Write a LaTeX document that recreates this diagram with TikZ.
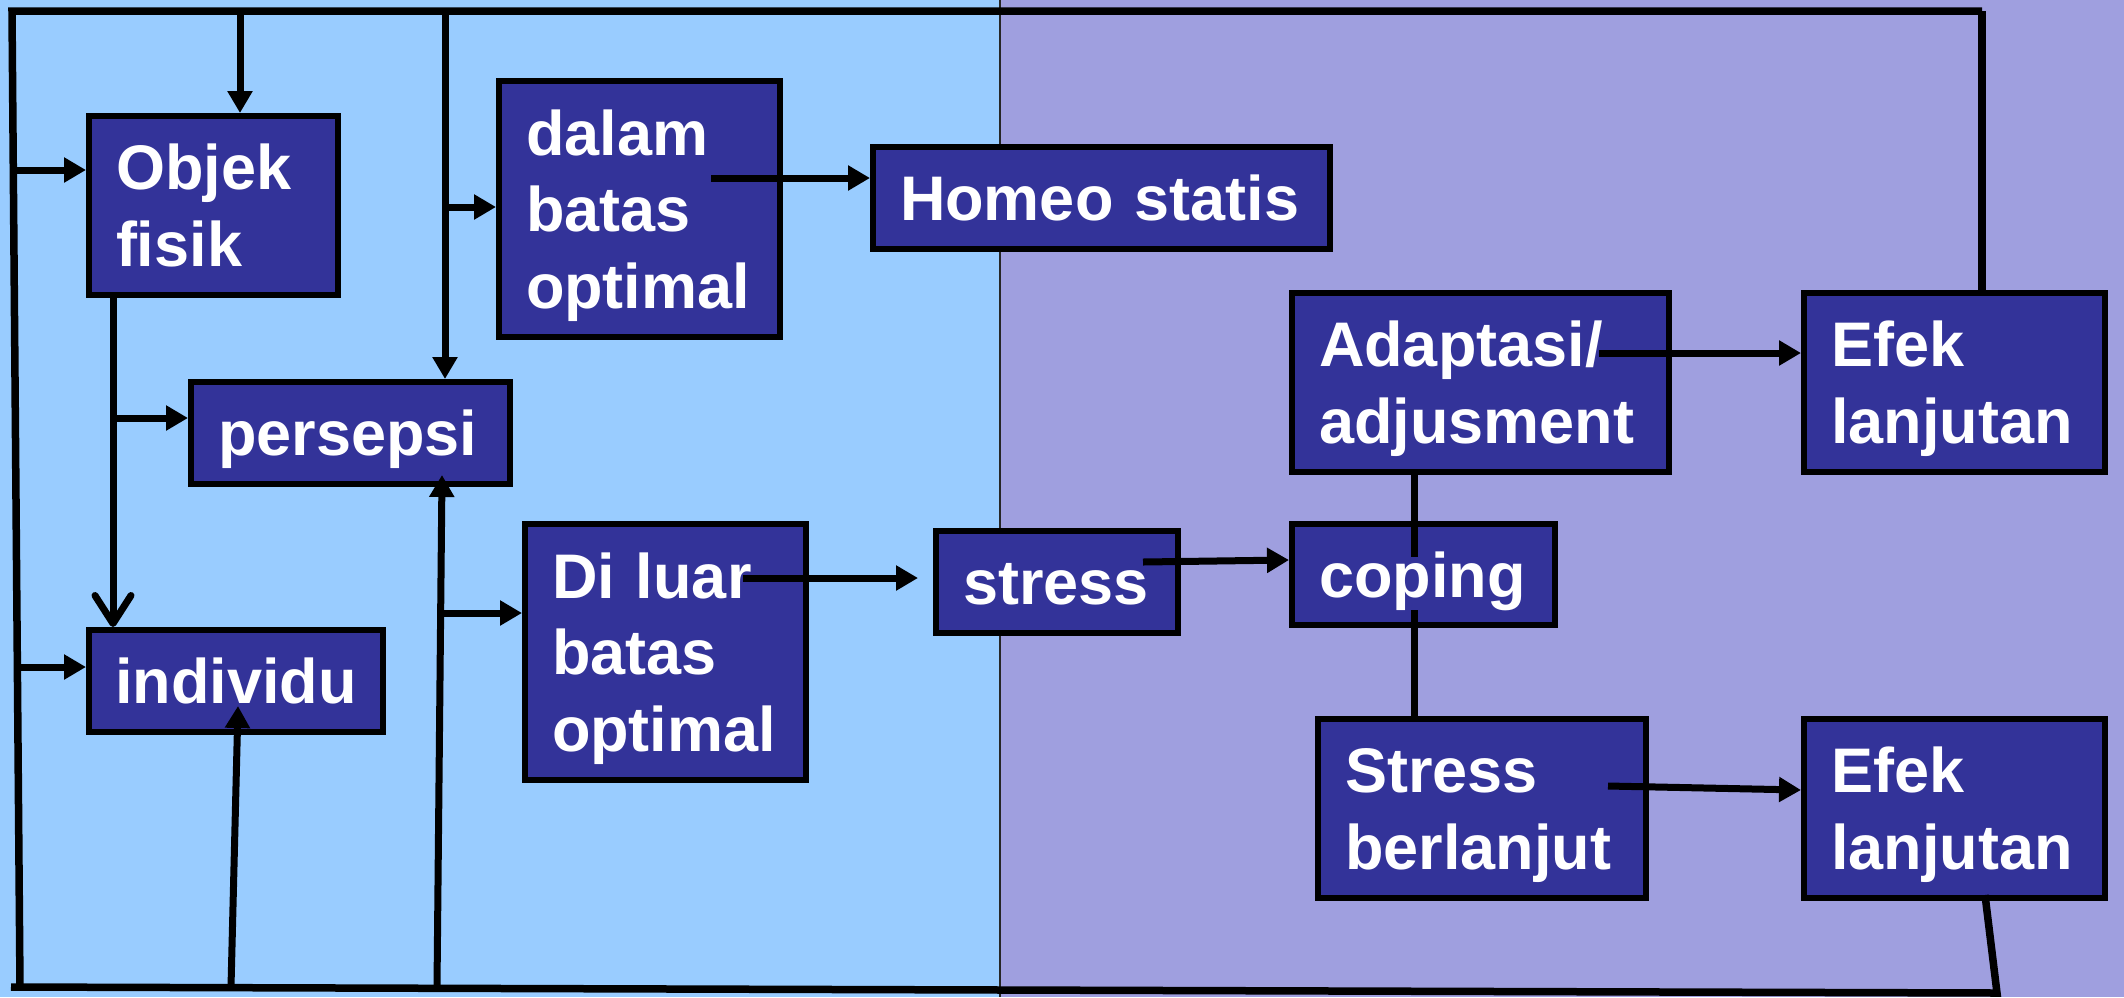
\documentclass[tikz,border=0pt]{standalone}
\usepackage{fontspec}
\setmainfont{Liberation Sans}
\usetikzlibrary{arrows.meta,calc}
\definecolor{leftbg}{HTML}{99CCFF}
\definecolor{rightbg}{HTML}{9F9FDF}
\definecolor{boxfill}{HTML}{333399}
\tikzset{
  box/.style={draw=black, line width=6pt, fill=boxfill, text=white,
    font=\bfseries\fontsize{63pt}{76.5pt}\selectfont, align=left,
    inner sep=0pt, text height=45pt},
  lone/.style={text depth=0pt},
  ltwo/.style={text depth=76.5pt},
  lthree/.style={text depth=153pt},
  conn/.style={line width=7pt},
  arr/.style={conn, -{Triangle[length=22pt,width=24pt]}},
  barb/.style={conn, -{Straight Barb[length=28pt,width=36pt,line cap=round,line join=round]}},
  outer/.style={line width=7.5pt}
}
\begin{document}
\begin{tikzpicture}[x=1pt,y=-1pt]
\useasboundingbox (0,0) rectangle (2124,997);
\fill[leftbg] (0,0) rectangle (1000,997);
\fill[rightbg] (1000,0) rectangle (2124,997);
\draw[line width=2.5pt, black!85] (1000,0) -- (1000,997);

% boxes
\node[box,ltwo,minimum width=249pt,minimum height=179pt,text width=195pt] (objek) at (213.5,205.5) {Objek\\fisik};
\node[box,lthree,minimum width=281pt,minimum height=256pt,text width=227pt] (dalam) at (639.5,209) {dalam\\batas\\optimal};
\node[box,lone,minimum width=457pt,minimum height=102pt,text width=403pt] (homeo) at (1101.5,198) {Homeo statis};
\node[box,lone,minimum width=319pt,minimum height=102pt,text width=265pt] (persepsi) at (350.5,433) {persepsi};
\node[box,lone,minimum width=294pt,minimum height=102pt,text width=242pt] (individu) at (236,681) {individu};
\node[box,lthree,minimum width=281pt,minimum height=256pt,text width=227pt] (diluar) at (665.5,652) {Di luar\\batas\\optimal};
\node[box,lone,minimum width=242pt,minimum height=102pt,text width=188pt] (stress) at (1057,582) {stress};
\node[box,ltwo,minimum width=377pt,minimum height=179pt,text width=323pt] (adapt) at (1480.5,382.5) {Adaptasi/\\adjusment};
\node[box,lone,minimum width=263pt,minimum height=101pt,text width=209pt] (coping) at (1423.5,574.5) {coping};
\node[box,ltwo,minimum width=328pt,minimum height=179pt,text width=274pt] (stressb) at (1482,808.5) {Stress\\berlanjut};
\node[box,ltwo,minimum width=301pt,minimum height=179pt,text width=247pt] (efekA) at (1954.5,382.5) {Efek\\lanjutan};
\node[box,ltwo,minimum width=301pt,minimum height=179pt,text width=247pt] (efekB) at (1954.5,808.5) {Efek\\lanjutan};

% frame coordinates
\coordinate (TL) at (12,11);
\coordinate (TR) at (1982,11);
\coordinate (BL) at (20,987);
\coordinate (BL0) at (11,987);
\coordinate (BR) at (1997,993);
\coordinate (eB) at ($(efekB.south west)+(184,-6)$);

% outer frame
\draw[outer, line join=miter] (TR) -- (TL) -- (BL);
\draw[outer] (TR) -- (TR |- efekA.north);
\draw[outer, line join=miter] (BL0) -- (BR) -- (eB);

% junction coordinates
\coordinate (t1) at (240,11);
\coordinate (t2) at (445,11);
\coordinate (l1) at (13,170);
\coordinate (l2) at (17,667);
\coordinate (o1) at ($(objek.south west)+(27,0)$);
\coordinate (o2) at (113,418);
\coordinate (t3) at (445,207);
\coordinate (d1) at (711,178);
\coordinate (b1) at (231,987);
\coordinate (b2) at (437,987);
\coordinate (v1) at (443,613);
\coordinate (dl1) at (743,578);
\coordinate (s1) at (1143,562);
\coordinate (a1) at (1599,353);
\coordinate (a2) at (1414,557);
\coordinate (c1) at (1414,610);
\coordinate (sb1) at (1608,786);

% connectors
\draw[arr] (t1) -- (t1 |- objek.north);
\draw[arr] (t2) -- (t2 |- persepsi.north);
\draw[arr] (l1) -- (l1 -| objek.west);
\draw[arr] (l2) -- (l2 -| individu.west);
\draw[barb] (o1) -- (o1 |- individu.north);
\draw[arr] (o2) -- (o2 -| persepsi.west);
\draw[arr] (t3) -- (t3 -| dalam.west);
\draw[arr] (d1) -- (d1 -| homeo.west);
\draw[arr] (b2) -- ($(persepsi.south west)+(254,-12)$);
\draw[arr] (v1) -- (v1 -| diluar.west);
\draw[arr] (b1) -- ($(individu.south west)+(152,-29)$);
\draw[arr] (dl1) -- ($(dl1 -| stress.west)+(-15,0)$);
\draw[arr] (s1) -- ($(coping.west)+(0,-14.5)$);
\draw[arr] (a1) -- (a1 -| efekA.west);
\draw[conn] (a2 |- adapt.south) -- (a2);
\draw[conn] (c1) -- (c1 |- stressb.north);
\draw[arr] (sb1) -- ($(efekB.west)+(0,-18.5)$);
\end{tikzpicture}
\end{document}
